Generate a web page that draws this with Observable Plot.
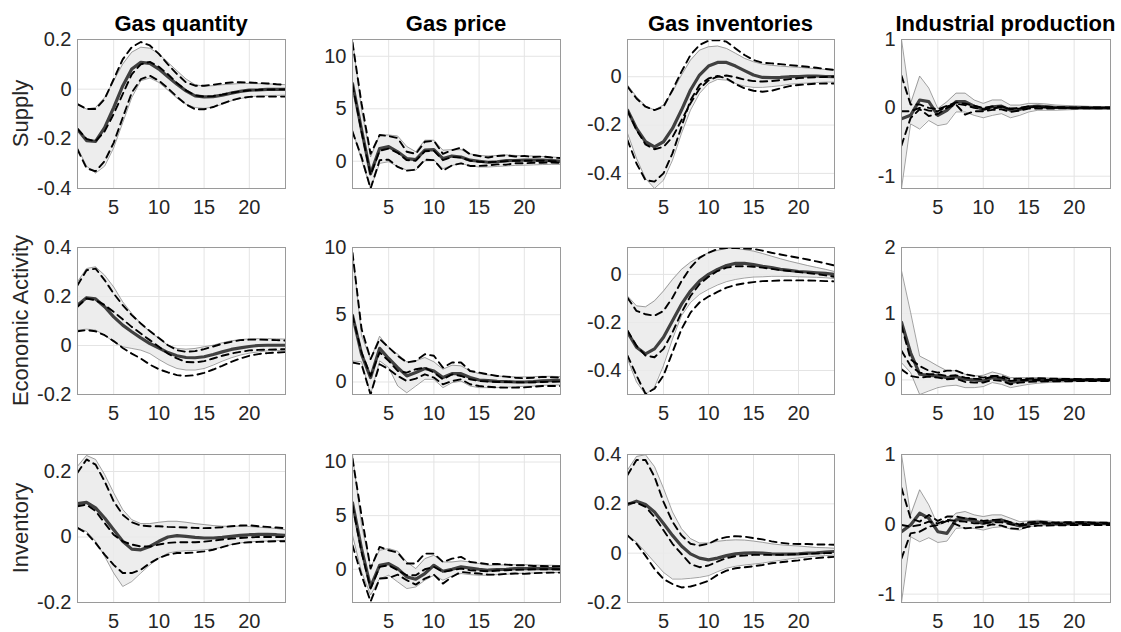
<!DOCTYPE html>
<html><head><meta charset="utf-8">
<script src="https://cdn.jsdelivr.net/npm/d3@7"></script>
<script src="https://cdn.jsdelivr.net/npm/@observablehq/plot@0.6"></script>
<style>
body{margin:0;background:#fff;}
#fig{position:relative;width:1121px;height:632px;overflow:hidden;background:#fff;font-family:"Liberation Sans",Arial,Helvetica,sans-serif;}
#fig svg{position:absolute;}
</style></head><body><div id="fig"></div>
<script>
// ---------- labels ----------
const colTitles = ["Gas quantity", "Gas price", "Gas inventories", "Industrial production"];
const rowTitles = ["Supply", "Economic Activity", "Inventory"];
const horizon = [1,2,3,4,5,6,7,8,9,10,11,12,13,14,15,16,17,18,19,20,21,22,23,24];
const xTicks = [5, 10, 15, 20];

// ---------- y tick values and y domains ----------
const S_Q_ticks = [-0.4,-0.2,0,0.2],  S_Q_dom = [-0.4, 0.2];
const S_P_ticks = [0,5,10],           S_P_dom = [-2.6, 11.6];
const S_V_ticks = [-0.4,-0.2,0],      S_V_dom = [-0.4625, 0.154];
const S_I_ticks = [-1,0,1],           S_I_dom = [-1.18, 1];
const E_Q_ticks = [-0.2,0,0.2,0.4],   E_Q_dom = [-0.2, 0.4];
const E_P_ticks = [0,5,10],           E_P_dom = [-0.93, 10];
const E_V_ticks = [-0.4,-0.2,0],      E_V_dom = [-0.5, 0.112];
const E_I_ticks = [0,1,2],            E_I_dom = [-0.22, 2];
const I_Q_ticks = [-0.2,0,0.2],       I_Q_dom = [-0.2, 0.252];
const I_P_ticks = [0,5,10],           I_P_dom = [-3.1, 10.7];
const I_V_ticks = [-0.2,0,0.2,0.4],   I_V_dom = [-0.2, 0.4];
const I_I_ticks = [-1,0,1],           I_I_dom = [-1.12, 1];

// ---------- Supply shock ----------
const S_Q_med = [-0.162,-0.207,-0.21,-0.155,-0.074,0.013,0.081,0.108,0.104,0.081,0.05,0.02,-0.007,-0.027,-0.031,-0.03,-0.024,-0.016,-0.009,-0.004,-0.003,-0.001,-0.001,-0.001];
const S_Q_hi  = [-0.063,-0.08,-0.074,-0.034,0.034,0.101,0.149,0.169,0.165,0.142,0.108,0.074,0.041,0.018,0.012,0.014,0.018,0.02,0.023,0.023,0.022,0.021,0.02,0.018];
const S_Q_lo  = [-0.236,-0.31,-0.338,-0.31,-0.236,-0.135,-0.034,0.034,0.045,0.027,-0.004,-0.036,-0.061,-0.074,-0.077,-0.072,-0.061,-0.047,-0.038,-0.031,-0.027,-0.026,-0.025,-0.024];
const S_Q_dhi = [-0.06,-0.08,-0.08,-0.04,0.04,0.12,0.169,0.19,0.176,0.142,0.1,0.061,0.027,0.014,0.014,0.018,0.023,0.027,0.028,0.027,0.025,0.023,0.02,0.018];
const S_Q_dmd = [-0.16,-0.2,-0.21,-0.17,-0.1,-0.02,0.06,0.1,0.11,0.09,0.06,0.025,-0.005,-0.025,-0.03,-0.028,-0.022,-0.015,-0.009,-0.005,-0.003,-0.002,-0.001,-0.001];
const S_Q_dlo = [-0.243,-0.318,-0.331,-0.29,-0.216,-0.115,-0.014,0.04,0.054,0.034,0.004,-0.031,-0.061,-0.081,-0.081,-0.072,-0.058,-0.045,-0.036,-0.031,-0.03,-0.03,-0.03,-0.03];

const S_P_med = [7.4,3.0,-1.2,1.2,1.4,0.9,0.25,0.15,1.05,1.1,0.25,0.5,0.4,0.1,0,-0.1,-0.05,0.05,0.07,0.1,0.1,0.1,0.05,0];
const S_P_hi  = [11.6,4.9,0.4,2.5,2.5,2.4,1.4,0.9,2.0,2.0,1.05,1.1,1.1,0.7,0.55,0.5,0.55,0.6,0.55,0.5,0.5,0.45,0.4,0.35];
const S_P_lo  = [3.0,0.1,-2.6,-0.2,-0.05,-0.5,-0.85,-0.85,0.05,0.1,-0.7,-0.4,-0.2,-0.45,-0.55,-0.55,-0.5,-0.45,-0.4,-0.38,-0.35,-0.32,-0.3,-0.3];
const S_P_dhi = [11.3,5.5,0.7,2.5,2.4,2.2,0.9,0.7,1.85,1.95,0.7,1.05,1.3,0.65,0.5,0.35,0.5,0.55,0.45,0.5,0.4,0.45,0.35,0.3];
const S_P_dmd = [7.3,2.8,-1.3,1.0,1.2,0.8,0.1,0.05,0.95,1.0,0.1,0.4,0.35,0.05,-0.05,-0.1,-0.05,0.0,0.05,0.05,0.05,0.05,0.0,0.0];
const S_P_dlo = [2.8,0.4,-2.6,0.1,0.15,-0.55,-0.9,-0.8,0.15,0.1,-0.9,-0.4,-0.2,-0.45,-0.45,-0.4,-0.3,-0.33,-0.2,-0.2,-0.15,-0.15,-0.12,-0.15];

const S_V_med = [-0.138,-0.214,-0.269,-0.29,-0.269,-0.214,-0.138,-0.055,0.007,0.044,0.059,0.059,0.044,0.025,0.007,-0.003,-0.004,-0.003,0,0.001,0.003,0.003,0.001,0];
const S_V_hi  = [-0.034,-0.083,-0.121,-0.138,-0.117,-0.062,0.007,0.069,0.11,0.124,0.127,0.117,0.097,0.076,0.062,0.052,0.047,0.044,0.041,0.039,0.036,0.033,0.03,0.028];
const S_V_lo  = [-0.234,-0.338,-0.421,-0.462,-0.428,-0.345,-0.234,-0.138,-0.069,-0.028,-0.011,-0.014,-0.028,-0.039,-0.044,-0.044,-0.041,-0.037,-0.031,-0.028,-0.026,-0.024,-0.022,-0.022];
const S_V_dhi = [-0.041,-0.09,-0.124,-0.138,-0.124,-0.055,0.021,0.09,0.131,0.149,0.152,0.145,0.117,0.09,0.069,0.058,0.055,0.052,0.048,0.045,0.041,0.037,0.032,0.028];
const S_V_dmd = [-0.14,-0.22,-0.28,-0.3,-0.29,-0.25,-0.18,-0.11,-0.05,-0.015,0.0,0.005,-0.002,-0.012,-0.018,-0.02,-0.018,-0.014,-0.01,-0.006,-0.004,-0.002,-0.001,0];
const S_V_dlo = [-0.262,-0.359,-0.428,-0.434,-0.4,-0.317,-0.207,-0.097,-0.034,-0.007,0.003,-0.007,-0.03,-0.048,-0.058,-0.062,-0.058,-0.048,-0.039,-0.034,-0.031,-0.029,-0.028,-0.028];

const S_I_med = [-0.16,-0.11,0.115,0.09,-0.11,-0.035,0.09,0.09,0.025,-0.025,0.015,0.025,-0.035,-0.025,0.015,0.025,0.015,0.005,0.005,0,0.005,0,0,0];
const S_I_hi  = [1.0,0.065,0.465,0.29,-0.01,0.09,0.215,0.215,0.115,0.065,0.115,0.115,0.04,0.04,0.065,0.065,0.055,0.04,0.035,0.03,0.025,0.02,0.02,0.015];
const S_I_lo  = [-1.18,-0.235,-0.31,-0.185,-0.26,-0.235,-0.06,-0.06,-0.11,-0.145,-0.11,-0.085,-0.145,-0.11,-0.06,-0.035,-0.035,-0.035,-0.03,-0.025,-0.02,-0.02,-0.015,-0.015];
const S_I_dhi = [0.47,0.05,0.05,0.0,-0.02,0.03,0.08,0.06,0.03,0.0,0.02,0.02,-0.01,0.0,0.02,0.02,0.015,0.01,0.01,0.005,0.005,0.005,0.005,0.005];
const S_I_dmd = [-0.05,-0.05,0.0,-0.04,-0.05,0.02,0.06,0.04,0.0,-0.02,-0.01,0.01,-0.02,-0.01,0.01,0.01,0.005,0,0,0,0,0,0,0];
const S_I_dlo = [-0.55,-0.15,-0.02,-0.12,-0.09,0.0,0.05,-0.1,-0.05,-0.05,-0.03,-0.02,-0.06,-0.04,-0.01,-0.01,-0.01,-0.01,-0.005,-0.005,-0.005,-0.005,-0.005,-0.005];

// ---------- Economic Activity shock ----------
const E_Q_med = [0.165,0.195,0.19,0.158,0.117,0.083,0.056,0.031,0.008,-0.01,-0.029,-0.042,-0.049,-0.05,-0.046,-0.037,-0.026,-0.016,-0.01,-0.004,0,0.001,0.001,0.001];
const E_Q_hi  = [0.26,0.314,0.321,0.287,0.239,0.178,0.131,0.09,0.056,0.029,0.001,-0.012,-0.015,-0.012,-0.005,0.001,0.011,0.019,0.024,0.027,0.028,0.028,0.027,0.026];
const E_Q_lo  = [0.063,0.067,0.063,0.042,0.015,-0.005,-0.012,-0.019,-0.033,-0.057,-0.078,-0.094,-0.1,-0.1,-0.094,-0.08,-0.064,-0.05,-0.039,-0.031,-0.026,-0.022,-0.021,-0.019];
const E_Q_dhi = [0.246,0.307,0.314,0.267,0.212,0.165,0.124,0.09,0.059,0.031,0.001,-0.019,-0.026,-0.023,-0.015,-0.004,0.007,0.015,0.022,0.024,0.024,0.023,0.022,0.02];
const E_Q_dmd = [0.158,0.192,0.185,0.165,0.137,0.107,0.076,0.049,0.022,-0.005,-0.033,-0.053,-0.067,-0.069,-0.064,-0.053,-0.042,-0.033,-0.026,-0.02,-0.018,-0.017,-0.016,-0.015];
const E_Q_dlo = [0.058,0.063,0.058,0.042,0.018,-0.01,-0.033,-0.053,-0.078,-0.097,-0.11,-0.121,-0.124,-0.121,-0.112,-0.098,-0.083,-0.067,-0.053,-0.042,-0.035,-0.031,-0.029,-0.027];

const E_P_med = [4.95,2.07,0.33,2.5,1.75,1.07,0.45,0.7,1.0,0.82,0.33,0.62,0.62,0.33,0.15,0.1,0.05,0.03,0,0,0.03,0.08,0.1,0.12];
const E_P_hi  = [9.7,3.45,1.7,3.4,2.57,2.07,1.5,1.57,1.82,1.5,0.95,1.25,1.2,0.82,0.62,0.52,0.45,0.4,0.38,0.38,0.4,0.42,0.42,0.4];
const E_P_lo  = [1.57,1.5,-0.93,1.57,1.07,-0.3,-0.8,-0.3,0.2,0.2,-0.42,-0.05,0.07,-0.3,-0.42,-0.42,-0.42,-0.38,-0.35,-0.32,-0.3,-0.25,-0.22,-0.22];
const E_P_dhi = [9.6,3.95,1.7,3.2,2.57,1.95,1.45,1.57,2.07,1.95,1.07,1.45,1.45,0.82,0.7,0.57,0.45,0.4,0.32,0.28,0.32,0.38,0.35,0.32];
const E_P_dmd = [4.95,2.2,0.45,2.2,1.57,0.82,0.7,0.95,1.07,0.7,0.2,0.57,0.45,0.2,0.07,0.03,0,0,-0.02,-0.03,-0.02,0,0.02,0.03];
const E_P_dlo = [1.45,1.32,-0.93,1.32,0.95,0.45,0.07,0.25,0.57,0.33,-0.17,0.07,0.2,-0.17,-0.3,-0.35,-0.4,-0.42,-0.42,-0.4,-0.35,-0.3,-0.3,-0.3];

const E_V_med = [-0.241,-0.303,-0.331,-0.31,-0.262,-0.193,-0.124,-0.069,-0.028,0,0.021,0.037,0.046,0.046,0.041,0.034,0.028,0.021,0.017,0.012,0.01,0.007,0.004,0];
const E_V_hi  = [-0.09,-0.131,-0.135,-0.11,-0.069,-0.021,0.021,0.051,0.073,0.09,0.1,0.108,0.108,0.103,0.097,0.087,0.076,0.065,0.055,0.046,0.037,0.029,0.021,0.012];
const E_V_lo  = [-0.352,-0.448,-0.5,-0.469,-0.379,-0.269,-0.172,-0.117,-0.083,-0.062,-0.044,-0.03,-0.021,-0.015,-0.011,-0.01,-0.008,-0.008,-0.008,-0.01,-0.011,-0.012,-0.014,-0.017];
const E_V_dhi = [-0.097,-0.152,-0.166,-0.172,-0.152,-0.097,-0.028,0.028,0.069,0.09,0.106,0.11,0.11,0.108,0.106,0.099,0.09,0.083,0.076,0.069,0.062,0.054,0.046,0.037];
const E_V_dmd = [-0.234,-0.297,-0.338,-0.345,-0.31,-0.241,-0.159,-0.09,-0.041,-0.01,0.014,0.028,0.034,0.034,0.032,0.028,0.023,0.018,0.014,0.01,0.006,0.001,-0.004,-0.01];
const E_V_dlo = [-0.338,-0.421,-0.497,-0.476,-0.421,-0.324,-0.228,-0.159,-0.117,-0.092,-0.073,-0.055,-0.044,-0.037,-0.032,-0.028,-0.027,-0.025,-0.025,-0.025,-0.025,-0.026,-0.028,-0.029];

const E_I_med = [0.87,0.41,0.086,0.07,0.06,0.035,0.05,0.01,0,-0.015,0.035,0.02,-0.04,-0.015,0,0,-0.005,0,0,0,0,0,0,0];
const E_I_hi  = [1.65,1.02,0.36,0.29,0.21,0.14,0.14,0.086,0.06,0.07,0.12,0.086,0.035,0.035,0.035,0.035,0.03,0.025,0.025,0.02,0.02,0.015,0.015,0.01];
const E_I_lo  = [0.26,0.11,-0.22,-0.167,-0.116,-0.09,-0.08,-0.116,-0.116,-0.1,-0.04,-0.066,-0.116,-0.09,-0.066,-0.05,-0.04,-0.035,-0.03,-0.025,-0.025,-0.02,-0.02,-0.02];
const E_I_dhi = [0.82,0.31,0.21,0.14,0.11,0.14,0.14,0.086,0.06,0.035,0.06,0.06,0.01,0.02,0.02,0.025,0.02,0.02,0.015,0.015,0.01,0.01,0.01,0.01];
const E_I_dmd = [0.44,0.21,0.11,0.086,0.086,0.06,0.07,0.035,0.02,0.01,0.05,0.035,-0.015,0,0,0,0,0,0,0,0,0,0,0];
const E_I_dlo = [0.16,0.06,0.035,0.05,0.035,0.01,0.02,-0.03,-0.04,-0.04,0,-0.015,-0.066,-0.04,-0.03,-0.025,-0.02,-0.02,-0.02,-0.02,-0.015,-0.015,-0.015,-0.015];

// ---------- Inventory shock ----------
const I_Q_med = [0.102,0.106,0.089,0.058,0.022,-0.013,-0.037,-0.039,-0.029,-0.013,0,0.004,0.002,-0.001,-0.003,-0.003,-0.001,0.002,0.005,0.007,0.008,0.008,0.007,0.005];
const I_Q_hi  = [0.216,0.249,0.237,0.191,0.135,0.084,0.053,0.041,0.041,0.045,0.048,0.048,0.045,0.041,0.038,0.035,0.033,0.033,0.033,0.032,0.03,0.028,0.026,0.022];
const I_Q_lo  = [0.028,0.017,-0.013,-0.059,-0.11,-0.151,-0.136,-0.11,-0.085,-0.064,-0.049,-0.044,-0.042,-0.041,-0.039,-0.036,-0.031,-0.023,-0.018,-0.015,-0.013,-0.012,-0.011,-0.01];
const I_Q_dhi = [0.196,0.237,0.221,0.17,0.109,0.068,0.045,0.035,0.033,0.033,0.031,0.03,0.029,0.028,0.027,0.028,0.03,0.033,0.035,0.036,0.033,0.031,0.029,0.027];
const I_Q_dmd = [0.094,0.099,0.079,0.043,0.007,-0.013,-0.023,-0.029,-0.029,-0.023,-0.018,-0.016,-0.016,-0.016,-0.014,-0.011,-0.008,-0.005,-0.003,-0.001,0,0,0,0];
const I_Q_dlo = [0.028,0.012,-0.018,-0.054,-0.085,-0.11,-0.11,-0.1,-0.08,-0.064,-0.054,-0.049,-0.049,-0.047,-0.044,-0.039,-0.031,-0.023,-0.018,-0.016,-0.015,-0.014,-0.013,-0.013];

const I_P_med = [6.2,1.9,-1.65,0.37,0.53,0.06,-0.71,-0.93,-0.4,0.37,-0.19,0,0.22,0.12,0,-0.09,-0.03,0,0.06,0.06,0.06,0.09,0.06,0.03];
const I_P_hi  = [10.7,4.1,0.22,1.77,1.93,1.68,0.68,0.06,0.99,1.3,0.68,0.68,0.78,0.68,0.53,0.37,0.37,0.43,0.43,0.43,0.4,0.37,0.37,0.34];
const I_P_lo  = [3.17,-0.25,-2.4,-0.87,-0.56,-1.18,-1.8,-1.65,-1.02,-0.56,-1.02,-0.62,-0.4,-0.5,-0.56,-0.56,-0.5,-0.47,-0.4,-0.37,-0.34,-0.31,-0.31,-0.31];
const I_P_dhi = [10.3,5.0,0.06,2.08,1.77,1.55,0.53,0.53,1.46,1.46,0.68,0.99,1.15,0.68,0.59,0.47,0.5,0.43,0.37,0.37,0.31,0.31,0.28,0.28];
const I_P_dmd = [5.96,1.6,-1.8,0.22,0.37,-0.09,-0.56,-0.56,0,0.22,-0.25,-0.09,0.06,-0.09,-0.15,-0.19,-0.12,-0.09,-0.06,-0.03,0,0,0,0];
const I_P_dlo = [2.24,-0.56,-3.0,-0.87,-0.81,-0.5,-1.02,-1.43,-0.87,-0.5,-1.34,-0.71,-0.25,-0.34,-0.4,-0.5,-0.5,-0.43,-0.4,-0.43,-0.37,-0.34,-0.31,-0.31];

const I_V_med = [0.197,0.211,0.197,0.167,0.12,0.072,0.029,-0.003,-0.02,-0.027,-0.02,-0.01,-0.003,0,0.001,0,-0.003,-0.004,-0.004,-0.003,0,0.001,0.004,0.007];
const I_V_hi  = [0.337,0.392,0.399,0.351,0.263,0.167,0.099,0.059,0.041,0.041,0.048,0.052,0.054,0.053,0.049,0.044,0.038,0.034,0.031,0.029,0.026,0.023,0.022,0.02];
const I_V_lo  = [0.072,0.045,0.004,-0.037,-0.078,-0.105,-0.105,-0.102,-0.098,-0.091,-0.075,-0.061,-0.053,-0.048,-0.044,-0.04,-0.034,-0.029,-0.023,-0.019,-0.015,-0.012,-0.01,-0.008];
const I_V_dhi = [0.317,0.378,0.378,0.31,0.208,0.127,0.072,0.038,0.031,0.038,0.056,0.065,0.069,0.067,0.061,0.056,0.048,0.042,0.038,0.037,0.037,0.035,0.035,0.034];
const I_V_dmd = [0.201,0.205,0.188,0.147,0.093,0.038,-0.003,-0.044,-0.057,-0.05,-0.034,-0.02,-0.012,-0.01,-0.007,-0.007,-0.007,-0.007,-0.005,-0.004,-0.003,-0.001,0,0.001];
const I_V_dlo = [0.072,0.038,-0.01,-0.064,-0.105,-0.125,-0.139,-0.135,-0.125,-0.112,-0.088,-0.071,-0.061,-0.057,-0.053,-0.048,-0.041,-0.037,-0.033,-0.029,-0.024,-0.02,-0.017,-0.015];

const I_I_med = [-0.106,-0.01,0.159,0.087,-0.106,-0.13,0.063,0.077,0.048,0.014,0.048,0.063,0.014,-0.024,0,0.029,0.014,0.005,0.01,0.014,0.024,0.014,0.014,0.01];
const I_I_hi  = [1.0,0.135,0.495,0.279,-0.01,0.038,0.159,0.183,0.135,0.111,0.135,0.135,0.087,0.038,0.048,0.058,0.048,0.038,0.038,0.038,0.038,0.034,0.029,0.029];
const I_I_lo  = [-1.12,-0.178,-0.25,-0.192,-0.26,-0.24,-0.058,-0.048,-0.058,-0.082,-0.048,-0.034,-0.067,-0.082,-0.034,-0.019,-0.019,-0.014,-0.014,-0.01,-0.01,-0.01,-0.01,-0.01];
const I_I_dhi = [0.52,0.087,0.038,0.135,0.048,0.111,0.111,0.087,0.077,0.048,0.063,0.063,0.029,0,0.029,0.038,0.029,0.024,0.029,0.029,0.029,0.024,0.024,0.024];
const I_I_dmd = [-0.01,-0.034,-0.01,0.038,0.014,0.063,0.048,0.038,0.014,0.014,0.029,0.029,0,-0.019,0,0.01,0.01,0.01,0.01,0.01,0.01,0.01,0.01,0.01];
const I_I_dlo = [-0.49,-0.13,-0.106,-0.034,-0.01,0.048,0,-0.058,-0.048,-0.034,0,-0.019,-0.058,-0.067,-0.034,-0.019,-0.019,-0.014,-0.014,-0.01,-0.01,-0.01,-0.01,-0.01];

// ---------- assemble panels ----------
const panels = [
  [ [S_Q_med,S_Q_hi,S_Q_lo,S_Q_dhi,S_Q_dmd,S_Q_dlo,S_Q_ticks,S_Q_dom],
    [S_P_med,S_P_hi,S_P_lo,S_P_dhi,S_P_dmd,S_P_dlo,S_P_ticks,S_P_dom],
    [S_V_med,S_V_hi,S_V_lo,S_V_dhi,S_V_dmd,S_V_dlo,S_V_ticks,S_V_dom],
    [S_I_med,S_I_hi,S_I_lo,S_I_dhi,S_I_dmd,S_I_dlo,S_I_ticks,S_I_dom] ],
  [ [E_Q_med,E_Q_hi,E_Q_lo,E_Q_dhi,E_Q_dmd,E_Q_dlo,E_Q_ticks,E_Q_dom],
    [E_P_med,E_P_hi,E_P_lo,E_P_dhi,E_P_dmd,E_P_dlo,E_P_ticks,E_P_dom],
    [E_V_med,E_V_hi,E_V_lo,E_V_dhi,E_V_dmd,E_V_dlo,E_V_ticks,E_V_dom],
    [E_I_med,E_I_hi,E_I_lo,E_I_dhi,E_I_dmd,E_I_dlo,E_I_ticks,E_I_dom] ],
  [ [I_Q_med,I_Q_hi,I_Q_lo,I_Q_dhi,I_Q_dmd,I_Q_dlo,I_Q_ticks,I_Q_dom],
    [I_P_med,I_P_hi,I_P_lo,I_P_dhi,I_P_dmd,I_P_dlo,I_P_ticks,I_P_dom],
    [I_V_med,I_V_hi,I_V_lo,I_V_dhi,I_V_dmd,I_V_dlo,I_V_ticks,I_V_dom],
    [I_I_med,I_I_hi,I_I_lo,I_I_dhi,I_I_dmd,I_I_dlo,I_I_ticks,I_I_dom] ]
];

// ---------- layout ----------
const colLeft = [77, 352, 627, 901], colW = [208, 208, 207, 209];
const rowTop = [39, 247, 454], rowH = [149, 147, 148];
const ML = 60, MR = 12, MT = 12, MB = 40;
const FONT = '"Liberation Sans", Arial, Helvetica, sans-serif';
const fig = document.getElementById("fig");

panels.forEach((row, r) => {
  row.forEach((p, c) => {
    const [med, hi, lo, dhi, dmd, dlo, ticks, dom] = p;
    const data = horizon.map((t, i) => ({t, med: med[i], hi: hi[i], lo: lo[i], dhi: dhi[i], dmd: dmd[i], dlo: dlo[i]}));
    const dash = k => Plot.line(data, {x: "t", y: k, stroke: "#000", strokeWidth: 1.9, strokeDasharray: "7,5", clip: true});
    const svg = Plot.plot({
      width: colW[c] + ML + MR, height: rowH[r] + MT + MB,
      marginLeft: ML, marginRight: MR, marginTop: MT, marginBottom: MB,
      style: {fontSize: "20px", fontFamily: FONT, color: "#262626", background: "transparent", overflow: "visible"},
      x: {domain: [1, 24], ticks: xTicks, tickSize: 0, tickPadding: 11, label: null},
      y: {domain: dom, ticks: ticks, tickSize: 0, tickPadding: 6, label: null, tickFormat: d => String(d)},
      marks: [
        Plot.ruleX(xTicks, {stroke: "#e4e4e4", strokeWidth: 1}),
        Plot.ruleY(ticks, {stroke: "#e4e4e4", strokeWidth: 1}),
        Plot.areaY(data, {x: "t", y1: "lo", y2: "hi", fill: "#eaeaea", fillOpacity: 0.85, clip: true}),
        Plot.line(data, {x: "t", y: "hi", stroke: "#7a7a7a", strokeWidth: 0.7, clip: true}),
        Plot.line(data, {x: "t", y: "lo", stroke: "#7a7a7a", strokeWidth: 0.7, clip: true}),
        Plot.line(data, {x: "t", y: "med", stroke: "#404040", strokeWidth: 3.2, clip: true}),
        dash("dhi"), dash("dmd"), dash("dlo"),
        Plot.frame({stroke: "#9a9a9a", strokeWidth: 1})
      ]
    });
    svg.style.left = (colLeft[c] - ML) + "px";
    svg.style.top = (rowTop[r] - MT) + "px";
    fig.appendChild(svg);
  });
});

// ---------- titles and row labels ----------
const ov = d3.select(fig).append("svg")
  .attr("width", 1121).attr("height", 632)
  .style("left", "0px").style("top", "0px").style("pointer-events", "none");
colTitles.forEach((t, c) => {
  ov.append("text").attr("x", colLeft[c] + colW[c] / 2).attr("y", 31)
    .attr("text-anchor", "middle").attr("font-family", FONT).attr("font-size", 22)
    .attr("font-weight", "bold").attr("fill", "#000").text(t);
});
rowTitles.forEach((t, r) => {
  const cy = rowTop[r] + rowH[r] / 2;
  ov.append("text").attr("transform", `translate(28,${cy}) rotate(-90)`)
    .attr("text-anchor", "middle").attr("font-family", FONT).attr("font-size", 22)
    .attr("fill", "#262626").text(t);
});
</script></body></html>
